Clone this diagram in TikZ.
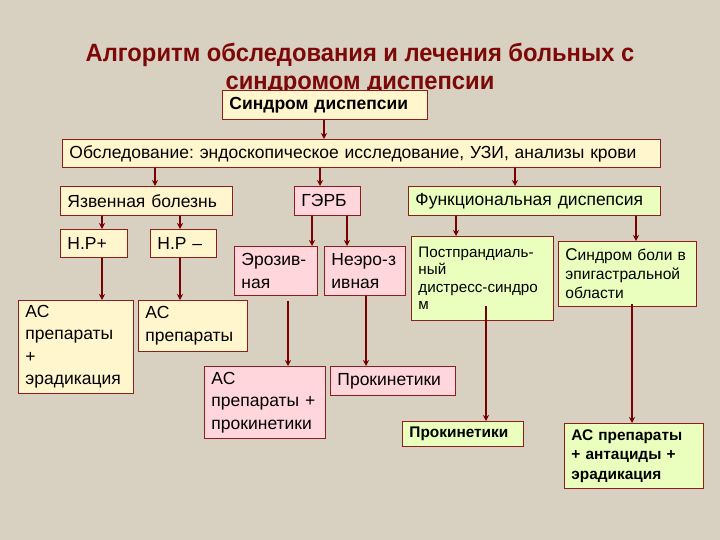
\documentclass[tikz,border=0pt]{standalone}
\usepackage{fontspec}
\setmainfont{Liberation Sans}
\newfontfamily\titlefont[FakeStretch=0.95]{Liberation Sans}
\usetikzlibrary{arrows.meta,calc}
\definecolor{bgc}{RGB}{216,208,192}
\definecolor{titlec}{RGB}{125,8,8}
\definecolor{bordc}{RGB}{140,30,30}
\definecolor{arrc}{RGB}{120,0,0}
\definecolor{creamc}{RGB}{255,246,206}
\definecolor{pinkc}{RGB}{255,214,220}
\definecolor{greenc}{RGB}{234,255,190}
\tikzset{
  box/.style={draw=bordc, line width=0.9pt, inner xsep=7pt, inner ysep=1pt, anchor=north west, align=left, font=\fontsize{17.5}{22.5}\selectfont},
  cream/.style={box, fill=creamc},
  pink/.style={box, fill=pinkc},
  green/.style={box, fill=greenc},
  smalltext/.style={font=\fontsize{15.2}{17.5}\selectfont},
  boldtext/.style={font=\fontsize{15.4}{19.5}\selectfont\bfseries},
  arr/.style={draw=arrc, line width=1.6pt, -{Stealth[length=6pt,width=6pt]}}
}
\begin{document}
\frenchspacing
\begin{tikzpicture}[x=1pt,y=-1pt]
\fill[bgc] (0,0) rectangle (720,540);
\useasboundingbox (0,0) rectangle (720,540);
\node[font=\titlefont\fontsize{25}{28}\selectfont\bfseries, text=titlec, align=center] (title) at (360,69) {Алгоритм обследования и лечения больных с\\синдромом диспепсии};
\node[cream, text width=191pt, minimum height=29pt, font=\fontsize{17.5}{20}\selectfont\bfseries] (sd) at (222,90) {Синдром диспепсии};
\node[cream, text width=584pt, minimum height=28pt] (obs) at (62,139) {Обследование: эндоскопическое исследование, УЗИ, анализы крови};
\node[cream, text width=158pt, minimum height=29pt] (yazv) at (60,186) {Язвенная болезнь};
\node[pink, text width=52pt, minimum height=29pt] (gerb) at (294,186) {ГЭРБ};
\node[green, text width=238pt, minimum height=29pt] (func) at (408,186) {Функциональная диспепсия};
\node[cream, text width=53pt, minimum height=28pt] (hpp) at (60,229) {Н.Р+};
\node[cream, text width=52pt, minimum height=28pt] (hpm) at (150,229) {Н.Р –};
\node[pink, text width=69pt, minimum height=49pt] (eroz) at (234,246) {Эрозив-\\ная};
\node[pink, text width=67pt, minimum height=49pt] (neer) at (324,246) {Неэро-з\\ивная};
\node[green, smalltext, text width=128pt, minimum height=84pt] (post) at (411,236) {Постпрандиаль-\\ный\\дистресс-синдро\\м};
\node[green, font=\fontsize{15.6}{19}\selectfont, text width=124pt, minimum height=65pt] (pain) at (558,241) {{\fontsize{17}{19}\selectfont С}индром боли в\\эпигастральной\\области};
\node[cream, text width=101pt, minimum height=93pt] (as1) at (18,300) {АС\\препараты\\+\\эрадикация};
\node[cream, text width=95pt, minimum height=51pt] (as2) at (138,300) {АС\\препараты};
\node[pink, text width=107pt, minimum height=72pt] (asp) at (204,366) {АС\\препараты +\\прокинетики};
\node[pink, text width=111pt, minimum height=29pt] (prok1) at (330,366) {Прокинетики};
\node[green, boldtext, text width=107pt, minimum height=25pt] (prok2) at (402,421) {Прокинетики};
\node[green, boldtext, text width=125pt, minimum height=65pt] (asa) at (564,423) {АС препараты\\+ антациды +\\эрадикация};
% arrows
\draw[arr] (324,0 |- sd.south) -- (324,0 |- obs.north);
\draw[arr] (155,0 |- obs.south) -- (155,0 |- yazv.north);
\draw[arr] (320,0 |- obs.south) -- (320,0 |- gerb.north);
\draw[arr] (515,0 |- obs.south) -- (515,0 |- func.north);
\draw[arr] (102,0 |- yazv.south) -- (102,0 |- hpp.north);
\draw[arr] (180,0 |- yazv.south) -- (180,0 |- hpm.north);
\draw[arr] (102,0 |- hpp.south) -- (102,0 |- as1.north);
\draw[arr] (180,0 |- hpm.south) -- (180,0 |- as2.north);
\draw[arr] (312,0 |- gerb.south) -- (312,0 |- eroz.north);
\draw[arr] (347,0 |- gerb.south) -- (347,0 |- neer.north);
\draw[arr] ($(288,0 |- eroz.south)+(0,5)$) -- (288,0 |- asp.north);
\draw[arr] (366,0 |- neer.south) -- (366,0 |- prok1.north);
\draw[arr] (456,0 |- func.south) -- (456,0 |- post.north);
\draw[arr] (636,0 |- func.south) -- (636,0 |- pain.north);
\draw[arr] ($(486,0 |- post.south)+(0,-15)$) -- (486,0 |- prok2.north);
\draw[arr] ($(632,0 |- pain.south)+(0,-3)$) -- (632,0 |- asa.north);
\end{tikzpicture}
\end{document}
